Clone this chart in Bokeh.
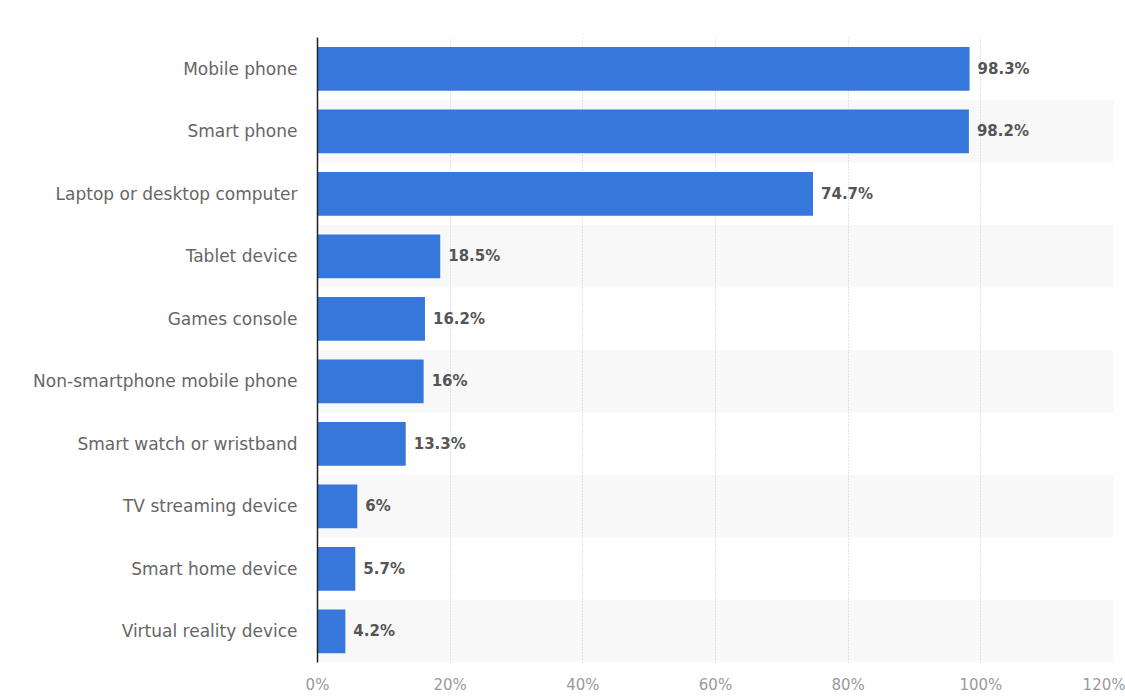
from bokeh.plotting import figure
from bokeh.models import FactorRange, ColumnDataSource, FixedTicker, CustomJSTickFormatter
from bokeh.core.properties import value
from bokeh.embed import file_html
from bokeh.resources import INLINE

categories = ["Mobile phone", "Smart phone", "Laptop or desktop computer", "Tablet device",
              "Games console", "Non-smartphone mobile phone", "Smart watch or wristband",
              "TV streaming device", "Smart home device", "Virtual reality device"]
shares = [98.3, 98.2, 74.7, 18.5, 16.2, 16, 13.3, 6, 5.7, 4.2]
x_ticks = [0, 20, 40, 60, 80, 100, 120]

labels = [f"{v:g}%" for v in shares]
band_cats = categories[1::2]

p = figure(frame_width=796, frame_height=625, output_backend="svg", toolbar_location=None,
           y_range=FactorRange(factors=list(reversed(categories))),
           x_range=(0, 120),
           min_border_left=317, min_border_right=12, min_border_top=37, min_border_bottom=30)
p.background_fill_color = "white"
p.border_fill_color = "white"
p.outline_line_color = None

bands = p.hbar(y=band_cats, left=0, right=120, height=1.0, fill_color="#f8f8f8", line_color=None)
bands.level = "image"

src = ColumnDataSource(dict(cat=categories, val=shares, lab=labels))
p.hbar(y="cat", right="val", left=0, height=0.7, source=src, fill_color="#3577DB", line_color=None)
p.text(x="val", y="cat", text="lab", source=src, x_offset=8, text_baseline="middle",
       text_font=value("DejaVu Sans"), text_font_style="bold", text_font_size="15px", text_color="#555555")

p.xgrid.ticker = FixedTicker(ticks=x_ticks)
p.xgrid.grid_line_color = "#c8c8c8"
p.xgrid.grid_line_dash = "1 2"
p.ygrid.grid_line_color = None

p.xaxis.ticker = FixedTicker(ticks=x_ticks)
p.xaxis.formatter = CustomJSTickFormatter(code="return tick + '%';")
p.xaxis.axis_line_color = None
p.xaxis.major_tick_line_color = None
p.xaxis.minor_tick_line_color = None
p.xaxis.major_tick_out = 0
p.xaxis.major_tick_in = 0
p.xaxis.major_label_standoff = 13
p.xaxis.major_label_text_font = "DejaVu Sans"
p.xaxis.major_label_text_font_size = "15px"
p.xaxis.major_label_text_color = "#9a9a9a"

p.yaxis.axis_line_color = "#222222"
p.yaxis.axis_line_width = 1.5
p.yaxis.major_tick_line_color = None
p.yaxis.minor_tick_line_color = None
p.yaxis.major_tick_out = 0
p.yaxis.major_tick_in = 0
p.yaxis.major_label_standoff = 20
p.yaxis.major_label_text_font = "DejaVu Sans"
p.yaxis.major_label_text_font_size = "17px"
p.yaxis.major_label_text_color = "#666666"

open("out.html", "w").write(file_html(p, INLINE))
